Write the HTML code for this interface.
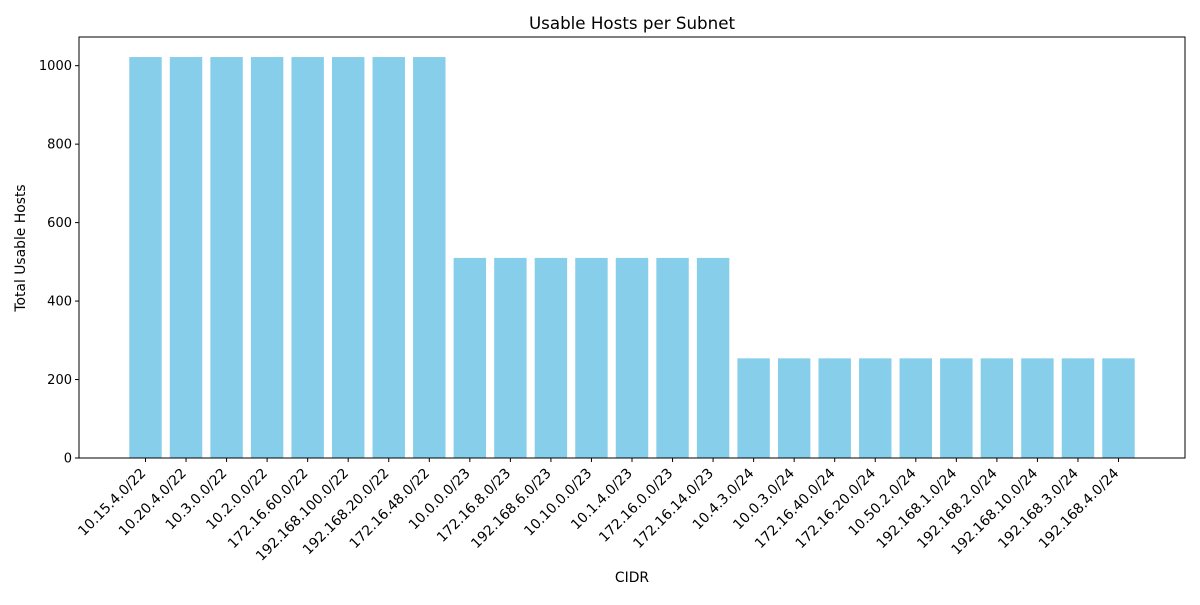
<!DOCTYPE html>
<html><head><meta charset="utf-8"><style>
body{margin:0;background:#fff;}
svg text{font-family:"DejaVu Sans","Liberation Sans",sans-serif;fill:#000;}
</style></head><body>
<svg id="chart" width="1200" height="600" xmlns="http://www.w3.org/2000/svg">
<text x="632" y="29" font-size="16.7" text-anchor="middle">Usable Hosts per Subnet</text>
<text x="632" y="582" font-size="13.9" text-anchor="middle">CIDR</text>
<text transform="translate(25,248) rotate(-90)" font-size="13.9" text-anchor="middle">Total Usable Hosts</text>
<g id="bars"></g><g id="xt"></g><g id="yt"></g>
<rect x="79" y="37" width="1106" height="421" fill="none" stroke="#000" stroke-width="1"/>
</svg>
<script>
const categories=["10.15.4.0/22","10.20.4.0/22","10.3.0.0/22","10.2.0.0/22","172.16.60.0/22","192.168.100.0/22","192.168.20.0/22","172.16.48.0/22","10.0.0.0/23","172.16.8.0/23","192.168.6.0/23","10.10.0.0/23","10.1.4.0/23","172.16.0.0/23","172.16.14.0/23","10.4.3.0/24","10.0.3.0/24","172.16.40.0/24","172.16.20.0/24","10.50.2.0/24","192.168.1.0/24","192.168.2.0/24","192.168.10.0/24","192.168.3.0/24","192.168.4.0/24"];
const hosts=[1022,1022,1022,1022,1022,1022,1022,1022,510,510,510,510,510,510,510,254,254,254,254,254,254,254,254,254,254];
const yTicks=[0,200,400,600,800,1000];
const NS="http://www.w3.org/2000/svg";
const L=79,R=1185,T=37,B=458;
const n=categories.length;
const xmin=-0.4-0.05*(n-0.2),xmax=n-1+0.4+0.05*(n-0.2);
const x=i=>L+(i-xmin)/(xmax-xmin)*(R-L);
const ymax=Math.max(...hosts)*1.05;
const y=v=>B-v/ymax*(B-T);
const bw=0.8*(R-L)/(xmax-xmin);
function mk(t,a){const e=document.createElementNS(NS,t);for(const k in a)e.setAttribute(k,a[k]);return e;}
const gb=document.getElementById('bars'),gx=document.getElementById('xt'),gy=document.getElementById('yt');
hosts.forEach((v,i)=>{
 const r=mk('rect',{x:x(i)-bw/2,y:y(v),width:bw,height:B-y(v),fill:'#87ceeb'});
 
 
 gb.appendChild(r);
 const tk=mk('line',{x1:x(i),x2:x(i),y1:B,y2:B+4,stroke:'#000'});
 
 
 gx.appendChild(tk);
 const t=mk('text',{x:0,y:0,'font-size':13.9,'text-anchor':'end',transform:`translate(${x(i)+1},${B+16}) rotate(-45)`});
 t.textContent=categories[i];
 
 
 gx.appendChild(t);
});
yTicks.forEach(v=>{
 const tk=mk('line',{x1:L-4,x2:L,y1:y(v),y2:y(v),stroke:'#000'});
 
 
 gy.appendChild(tk);
 const t=mk('text',{x:L-7,y:y(v)+4.5,'font-size':13,'text-anchor':'end'});
 t.textContent=v;
 
 
 gy.appendChild(t);
});
</script>
</body></html>
